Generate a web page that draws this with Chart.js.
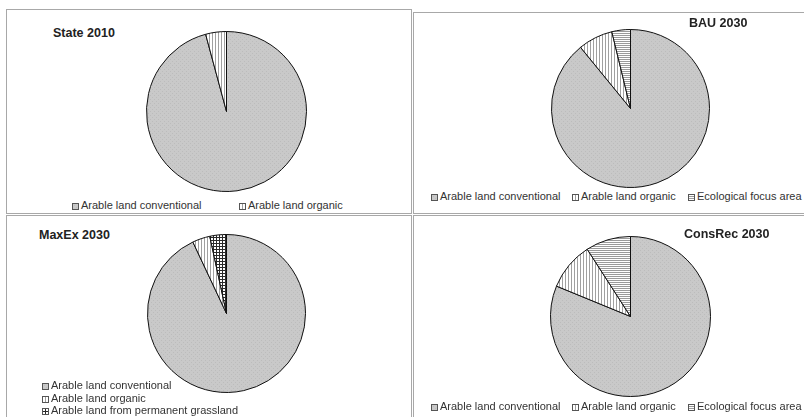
<!DOCTYPE html>
<html>
<head>
<meta charset="utf-8">
<script src="https://cdn.jsdelivr.net/npm/chart.js@4.4.0/dist/chart.umd.min.js"></script>
<style>
  body { margin: 0; background: #fff; }
  #page { position: relative; width: 804px; height: 417px; overflow: hidden; font-family: "Liberation Sans", Arial, sans-serif; }
  .panel { position: absolute; border: 1px solid #a8a8a8; box-sizing: border-box; }
  .pie { position: absolute; }
  .title { position: absolute; font-weight: bold; font-size: 12.5px; color: #222; line-height: 14px; white-space: nowrap; }
  .leg { position: absolute; font-size: 11px; color: #333; line-height: 13px; white-space: nowrap; }
  .leg canvas { vertical-align: -1px; margin-right: 2px; }
</style>
</head>
<body>
<div id="page">
  <div class="panel" style="left:6px;top:9px;width:406px;height:205px"></div>
  <div class="panel" style="left:413px;top:12px;width:400px;height:202px"></div>
  <div class="panel" style="left:6px;top:215px;width:406px;height:210px"></div>
  <div class="panel" style="left:413px;top:215px;width:400px;height:210px"></div>
</div>
<script>
// data
const stateLabels = ["Arable land conventional", "Arable land organic"];
const stateValues = [95.8, 4.2];
const bauLabels = ["Arable land conventional", "Arable land organic", "Ecological focus area"];
const bauValues = [89.1, 7.1, 3.8];
const maxExLabels = ["Arable land conventional", "Arable land organic", "Arable land from permanent grassland"];
const maxExValues = [93.0, 3.6, 3.4];
const consRecLabels = ["Arable land conventional", "Arable land organic", "Ecological focus area"];
const consRecValues = [81.2, 9.7, 9.1];

// fill patterns
function tile(w, h, draw) {
  const c = document.createElement("canvas");
  c.width = w; c.height = h;
  const g = c.getContext("2d");
  draw(g);
  return g.createPattern(c, "repeat");
}
const patterns = {
  "Arable land conventional": tile(4, 4, g => {
    g.fillStyle = "#c9c9c9"; g.fillRect(0, 0, 4, 4);
    g.fillStyle = "#bcbcbc"; g.fillRect(0, 0, 1, 1); g.fillRect(2, 2, 1, 1);
  }),
  "Arable land organic": tile(3, 1, g => {
    g.fillStyle = "#fff"; g.fillRect(0, 0, 3, 1);
    g.fillStyle = "#a0a0a0"; g.fillRect(0, 0, 1, 1);
  }),
  "Ecological focus area": tile(1, 2, g => {
    g.fillStyle = "#fff"; g.fillRect(0, 0, 1, 2);
    g.fillStyle = "#9a9a9a"; g.fillRect(0, 0, 1, 1);
  }),
  "Arable land from permanent grassland": tile(3, 3, g => {
    g.fillStyle = "#fff"; g.fillRect(0, 0, 3, 3);
    g.fillStyle = "#2a2a2a"; g.fillRect(0, 0, 3, 1); g.fillRect(0, 0, 1, 3);
  })
};

const page = document.getElementById("page");

function addText(cls, x, y, html) {
  const d = document.createElement("div");
  d.className = cls;
  d.style.left = x + "px";
  d.style.top = y + "px";
  page.appendChild(d);
  return d;
}

function legendItem(label, x, y) {
  const d = addText("leg", x, y);
  const m = document.createElement("canvas");
  m.width = 7; m.height = 7;
  const g = m.getContext("2d");
  g.fillStyle = patterns[label];
  g.fillRect(0, 0, 7, 7);
  g.strokeStyle = "#555";
  g.strokeRect(0.5, 0.5, 6, 6);
  d.appendChild(m);
  d.appendChild(document.createTextNode(label));
}

function pie(labels, values, cx, cy, r) {
  const cv = document.createElement("canvas");
  cv.className = "pie";
  cv.width = 2 * r + 1;
  cv.height = 2 * r + 1;
  cv.style.left = (cx - r) + "px";
  cv.style.top = (cy - r) + "px";
  page.appendChild(cv);
  new Chart(cv, {
    type: "pie",
    data: {
      labels: labels,
      datasets: [{
        data: values,
        backgroundColor: labels.map(l => patterns[l]),
        borderColor: "#111",
        borderWidth: 1
      }]
    },
    options: {
      responsive: false,
      animation: false,
      events: [],
      plugins: { legend: { display: false }, tooltip: { enabled: false } }
    }
  });
}

// State 2010
pie(stateLabels, stateValues, 226, 111, 80);
addText("title", 53, 26).textContent = "State 2010";
legendItem(stateLabels[0], 72, 199);
legendItem(stateLabels[1], 239, 199);

// BAU 2030
pie(bauLabels, bauValues, 630, 108, 79);
addText("title", 689, 16).textContent = "BAU 2030";
legendItem(bauLabels[0], 431, 190);
legendItem(bauLabels[1], 572, 190);
legendItem(bauLabels[2], 688, 190);

// MaxEx 2030
pie(maxExLabels, maxExValues, 226, 313, 79);
addText("title", 39, 228).textContent = "MaxEx 2030";
legendItem(maxExLabels[0], 42, 379);
legendItem(maxExLabels[1], 42, 391.5);
legendItem(maxExLabels[2], 42, 404);

// ConsRec 2030
pie(consRecLabels, consRecValues, 630, 316, 80);
addText("title", 684, 227).textContent = "ConsRec 2030";
legendItem(consRecLabels[0], 431, 400);
legendItem(consRecLabels[1], 572, 400);
legendItem(consRecLabels[2], 688, 400);
</script>
</body>
</html>
